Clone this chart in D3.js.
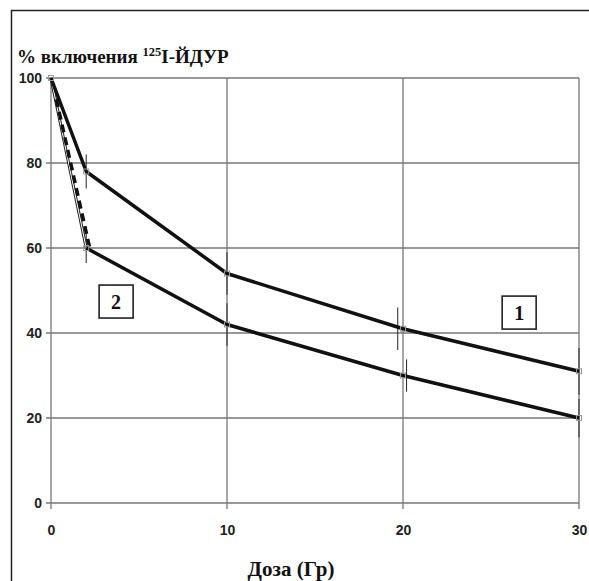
<!DOCTYPE html>
<html><head><meta charset="utf-8">
<script src="https://cdn.jsdelivr.net/npm/d3@7/dist/d3.min.js"></script>
<style>body{margin:0;background:#fff}svg{display:block}
.serif{font-family:'Liberation Serif','DejaVu Serif Condensed','DejaVu Serif',serif;font-weight:bold}
.sans{font-family:'Liberation Sans',Arial,Helvetica,sans-serif;font-weight:bold}
</style>
</head><body>
<svg id="c" width="589" height="581"></svg>
<script>
const xTicks = [0, 10, 20, 30];
const yTicks = [0, 20, 40, 60, 80, 100];
const doses = [0, 2, 10, 20, 30];
const series1 = [100, 78, 54, 41, 31];
const series2 = [100, 60, 42, 30, 20];
const err1 = [0, 4, 5, 5, 5.5];
const err2 = [0, 3.5, 5, 3.8, 4.5];
const err1Dx = [0, 0, 0, -0.3, 0];
const err2Dx = [0, 0, 0, 0.2, 0];
const dashedX = [0.3, 2.2];
const dashedY = [95, 60];
const labelTexts = ["1", "2"];
const labelPos = [[26.6, 44.8], [3.7, 47.4]];

const svg = d3.select("#c");
const W = 589, H = 581;
const m = {left: 51, right: 579, top: 78, bottom: 503};
const x = d3.scaleLinear().domain([0, 30]).range([m.left, m.right]);
const y = d3.scaleLinear().domain([0, 100]).range([m.bottom, m.top]);

// outer frame
svg.append("path").attr("d", `M11.5,${H+2}V10.5H${W+2}`).attr("fill", "none")
  .attr("stroke", "#222").attr("stroke-width", 1.5);

// grid
const grid = svg.append("g").attr("stroke", "#777").attr("stroke-width", 1.3);
yTicks.forEach(t => grid.append("line").attr("x1", x(0) - 5).attr("x2", x(30))
  .attr("y1", y(t)).attr("y2", y(t)));
xTicks.forEach(t => grid.append("line").attr("x1", x(t)).attr("x2", x(t))
  .attr("y1", y(100)).attr("y2", y(0) + 6));

// axes labels
const yAxis = d3.axisLeft(y).tickValues(yTicks).tickSize(0).tickPadding(9);
svg.append("g").attr("transform", `translate(${x(0)},0)`).call(yAxis)
  .call(g => g.select(".domain").remove())
  .call(g => g.attr("font-family", null).attr("font-size", null))
  .selectAll("text").attr("class", "sans").style("font-size", "14px").attr("fill", "#222");
const xAxis = d3.axisBottom(x).tickValues(xTicks).tickSize(0).tickPadding(22);
svg.append("g").attr("transform", `translate(0,${y(0)})`).call(xAxis)
  .call(g => g.select(".domain").remove())
  .call(g => g.attr("font-family", null).attr("font-size", null))
  .selectAll("text").attr("class", "sans").style("font-size", "14px").attr("fill", "#222");

// error bars
const eb = svg.append("g").attr("stroke", "#333").attr("stroke-width", 1.1);
[[series1, err1, err1Dx], [series2, err2, err2Dx]].forEach(([s, e, dx]) => {
  doses.forEach((d, i) => {
    if (!e[i]) return;
    eb.append("line").attr("x1", x(d + dx[i])).attr("x2", x(d + dx[i]))
      .attr("y1", y(s[i] + e[i])).attr("y2", y(s[i] - e[i]));
  });
});

// lines
const line = d3.line().x(d => x(d[0])).y(d => y(d[1]));
const pts1 = doses.map((d, i) => [d, series1[i]]);
const pts2 = doses.map((d, i) => [d, series2[i]]);
svg.append("path").attr("d", line(pts2.slice(0, 2))).attr("fill", "none")
  .attr("stroke", "#222").attr("stroke-width", 3);
svg.append("path").attr("d", line(pts2.slice(0, 2))).attr("fill", "none")
  .attr("stroke", "#fff").attr("stroke-width", 1);
svg.append("path").attr("d", line(pts2.slice(1))).attr("fill", "none")
  .attr("stroke", "#111").attr("stroke-width", 3.5).attr("stroke-linejoin", "round");
svg.append("path").attr("d", line(pts1)).attr("fill", "none")
  .attr("stroke", "#111").attr("stroke-width", 3.5).attr("stroke-linejoin", "round");
svg.append("path").attr("d", line(dashedX.map((d, i) => [d, dashedY[i]])))
  .attr("fill", "none").attr("stroke", "#111").attr("stroke-width", 3.5)
  .attr("stroke-dasharray", "8,5");

// markers
const mk = svg.append("g");
pts1.concat(pts2).forEach(p => mk.append("rect").attr("x", x(p[0]) - 2.5).attr("y", y(p[1]) - 2.5)
  .attr("width", 5).attr("height", 5).attr("fill", "none").attr("stroke", "#999").attr("stroke-width", 1));

// boxed labels
labelTexts.forEach((t, i) => {
  const cx = x(labelPos[i][0]), cy = y(labelPos[i][1]);
  svg.append("rect").attr("x", cx - 17).attr("y", cy - 16.5).attr("width", 34).attr("height", 33)
    .attr("fill", "#fff").attr("stroke", "#222").attr("stroke-width", 1.6);
  svg.append("text").attr("x", cx).attr("y", cy + 7).attr("text-anchor", "middle")
    .attr("class", "serif").style("font-size", "20px").attr("fill", "#111").text(t);
});

// titles
const title = svg.append("text").attr("x", 17).attr("y", 63)
  .attr("class", "serif").style("font-size", "19px").attr("fill", "#111");
title.append("tspan").text("% включения ");
title.append("tspan").style("font-size", "12.5px").attr("dy", -7).text("125");
title.append("tspan").attr("dy", 7).text("I-ЙДУР");

svg.append("text").attr("x", 291).attr("y", 576).attr("text-anchor", "middle")
  .attr("class", "serif").style("font-size", "21px").attr("fill", "#111").text("Доза (Гр)");
</script>
</body></html>
